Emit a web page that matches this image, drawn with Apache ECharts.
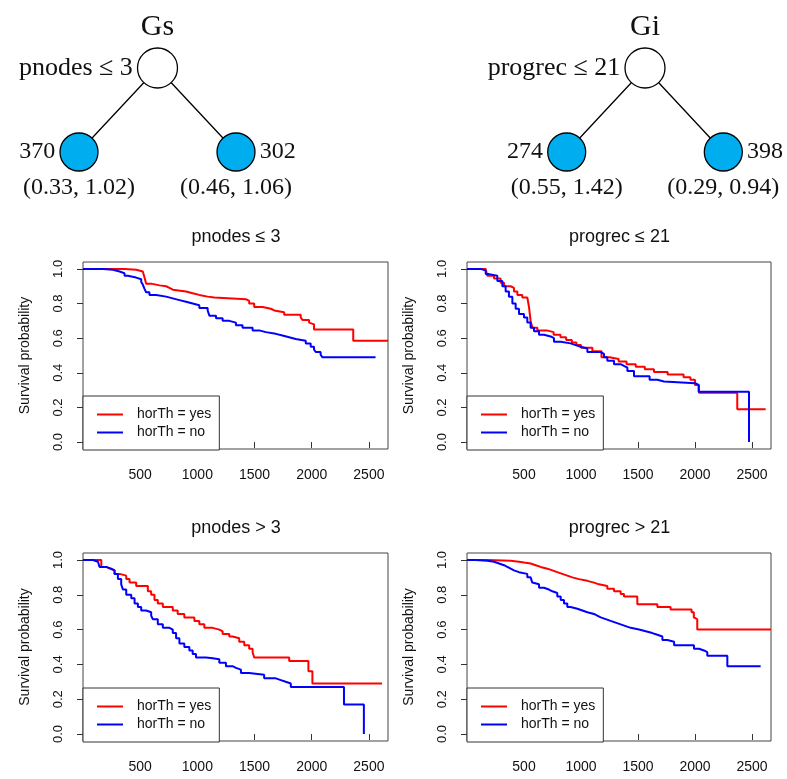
<!DOCTYPE html>
<html><head><meta charset="utf-8">
<script src="https://cdn.jsdelivr.net/npm/echarts@6/dist/echarts.min.js"></script>
<style>html,body{margin:0;padding:0;background:#fff}#c{width:787px;height:779px}</style>
</head><body><div id="c"></div>
<script>
// ---------- data ----------
const xTicks = [500, 1000, 1500, 2000, 2500];
const yTicks = [0, 0.2, 0.4, 0.6, 0.8, 1.0];
const seriesNames = ['horTh = yes', 'horTh = no'];
const panelTitles = ['pnodes ≤ 3', 'progrec ≤ 21', 'pnodes > 3', 'progrec > 21'];

// [time, survival probability]
const pnodesLeYes = [[0,1],[363,0.995],[465,0.985],[523,0.975],[538,0.95],[552,0.915],[596,0.905],[669,0.9],[727,0.89],[756,0.88],[785,0.87],[901,0.86],[959,0.85],[1017,0.84],[1090,0.835],[1148,0.825],[1424,0.815],[1453,0.8],[1497,0.78],[1570,0.77],[1642,0.76],[1672,0.75],[1759,0.735],[1904,0.72],[1919,0.705],[1977,0.69],[1991,0.68],[2020,0.65],[2363,0.585],[2667,0.585]];
const pnodesLeNo = [[0,1],[174,0.995],[262,0.985],[320,0.975],[363,0.96],[392,0.95],[465,0.94],[509,0.925],[523,0.91],[538,0.885],[552,0.865],[581,0.85],[640,0.84],[727,0.83],[785,0.82],[843,0.81],[901,0.8],[959,0.79],[1017,0.775],[1090,0.76],[1105,0.73],[1163,0.715],[1221,0.7],[1279,0.69],[1337,0.675],[1395,0.66],[1483,0.645],[1541,0.635],[1599,0.625],[1686,0.615],[1744,0.605],[1802,0.595],[1860,0.585],[1948,0.57],[1991,0.55],[2020,0.535],[2035,0.52],[2078,0.505],[2093,0.49],[2558,0.49]];
const progrecLeYes = [[0,1],[164,0.99],[178,0.96],[237,0.945],[295,0.92],[325,0.9],[383,0.89],[412,0.87],[442,0.85],[485,0.835],[529,0.83],[544,0.78],[558,0.7],[573,0.66],[617,0.645],[700,0.635],[760,0.62],[820,0.605],[870,0.59],[920,0.575],[960,0.56],[1000,0.545],[1100,0.525],[1180,0.49],[1250,0.48],[1330,0.465],[1400,0.45],[1480,0.435],[1560,0.42],[1640,0.405],[1760,0.39],[1900,0.375],[1960,0.36],[2000,0.33],[2035,0.285],[2371,0.19],[2620,0.19]];
const progrecLeNo = [[0,1],[120,0.99],[164,0.97],[193,0.96],[266,0.93],[310,0.9],[339,0.87],[368,0.84],[398,0.8],[427,0.77],[456,0.74],[500,0.72],[529,0.69],[558,0.66],[588,0.64],[632,0.62],[675,0.61],[734,0.6],[763,0.58],[822,0.57],[909,0.56],[953,0.55],[997,0.54],[1056,0.52],[1173,0.51],[1202,0.49],[1231,0.47],[1290,0.45],[1348,0.44],[1377,0.43],[1407,0.41],[1465,0.38],[1602,0.36],[1670,0.35],[1728,0.34],[2002,0.33],[2032,0.29],[2474,0.29],[2474,0]];
const pnodesGtYes = [[0,1],[160,0.96],[203,0.95],[233,0.94],[276,0.92],[320,0.91],[378,0.89],[407,0.87],[465,0.85],[567,0.82],[596,0.8],[625,0.77],[654,0.75],[698,0.73],[785,0.71],[828,0.69],[886,0.67],[974,0.65],[1017,0.63],[1061,0.61],[1134,0.6],[1192,0.59],[1221,0.575],[1279,0.56],[1308,0.55],[1366,0.53],[1410,0.51],[1453,0.49],[1483,0.47],[1497,0.44],[1803,0.42],[1971,0.36],[2006,0.29],[2615,0.29]];
const pnodesGtNo = [[0,1],[87,0.99],[131,0.98],[145,0.96],[203,0.95],[247,0.94],[276,0.92],[305,0.89],[334,0.86],[349,0.83],[378,0.8],[422,0.78],[451,0.75],[480,0.73],[509,0.71],[552,0.7],[596,0.68],[610,0.66],[654,0.63],[698,0.61],[756,0.6],[785,0.58],[814,0.55],[843,0.52],[886,0.5],[930,0.48],[959,0.46],[988,0.44],[1076,0.435],[1134,0.43],[1192,0.41],[1250,0.39],[1308,0.38],[1337,0.37],[1381,0.35],[1453,0.34],[1584,0.32],[1686,0.31],[1730,0.3],[1773,0.29],[1817,0.27],[2282,0.17],[2456,0.17],[2456,0]];
const progrecGtYes = [[0,1],[178,0.995],[383,0.99],[456,0.985],[500,0.98],[558,0.97],[602,0.96],[646,0.95],[705,0.94],[749,0.93],[792,0.92],[836,0.91],[880,0.9],[924,0.89],[982,0.88],[1056,0.87],[1114,0.86],[1158,0.85],[1231,0.835],[1290,0.82],[1348,0.805],[1377,0.79],[1494,0.745],[1670,0.73],[1786,0.715],[1970,0.7],[1990,0.67],[2005,0.66],[2020,0.6],[2667,0.6]];
const progrecGtNo = [[0,1],[73,0.995],[178,0.99],[237,0.98],[281,0.97],[325,0.96],[354,0.95],[383,0.94],[412,0.93],[456,0.92],[529,0.9],[558,0.89],[573,0.87],[588,0.86],[632,0.84],[675,0.83],[719,0.82],[749,0.81],[792,0.79],[822,0.77],[851,0.75],[880,0.73],[909,0.72],[968,0.71],[1012,0.7],[1056,0.69],[1114,0.68],[1143,0.67],[1173,0.66],[1217,0.65],[1260,0.64],[1304,0.63],[1348,0.62],[1392,0.61],[1436,0.6],[1509,0.59],[1568,0.58],[1626,0.57],[1670,0.56],[1714,0.54],[1758,0.53],[1817,0.51],[1991,0.49],[2035,0.48],[2079,0.47],[2108,0.45],[2284,0.39],[2576,0.39]];

// trees
const treeTitles = ['Gs', 'Gi'];
const treeSplits = ['pnodes ≤ 3', 'progrec ≤ 21'];
const treeCounts = [[370, 302], [274, 398]];
const treeStats = [['(0.33, 1.02)', '(0.46, 1.06)'], ['(0.55, 1.42)', '(0.29, 0.94)']];
const nodeOrder = [0, -1, 1];   // root, left leaf, right leaf
const nodeDepth = [0, 1, 1];

// ---------- layout ----------
const panelData = [[pnodesLeYes, pnodesLeNo], [progrecLeYes, progrecLeNo], [pnodesGtYes, pnodesGtNo], [progrecGtYes, progrecGtNo]];
const boxes = [[83,262,305,187],[467,262,304,187],[83,553,305,188],[467,553,304,188]];
const treeBoxes = [[79,68,157,84],[566.7,68,156.6,84]];
const colors = ['#ff0000', '#0000ff'];
const SANS = 'Liberation Sans, Arial, sans-serif';
const SERIF = 'Liberation Serif, Times New Roman, serif';

const grid = [], xAxis = [], yAxis = [], series = [], legend = [], graphic = [];

boxes.forEach((b, i) => {
  grid.push({left: b[0], top: b[1], width: b[2], height: b[3], show: true, borderColor: '#444', borderWidth: 1, containLabel: false});
  xAxis.push({type: 'value', gridIndex: i, min: 0, max: 2667,
    axisLine: {show: false}, splitLine: {show: false},
    axisTick: {show: true, length: 6, customValues: xTicks, lineStyle: {color: '#333'}},
    axisLabel: {customValues: xTicks, margin: 19, fontSize: 14, color: '#111', fontFamily: SANS,
      formatter: v => String(v)}});
  yAxis.push({type: 'value', gridIndex: i, min: -0.04, max: 1.04,
    axisLine: {show: false}, splitLine: {show: false},
    axisTick: {show: true, length: 6, customValues: yTicks, lineStyle: {color: '#333'}},
    axisLabel: {customValues: yTicks, rotate: 90, margin: 18, fontSize: 13, color: '#111', fontFamily: SANS,
      formatter: v => v.toFixed(1)},
    name: 'Survival probability', nameLocation: 'middle', nameRotate: 90, nameGap: 51,
    nameTextStyle: {fontSize: 14, color: '#111', fontFamily: SANS}});
  panelData[i].forEach((d, k) => {
    series.push({type: 'line', name: seriesNames[k], xAxisIndex: i, yAxisIndex: i, data: d,
      step: 'end', symbol: 'none', showSymbol: false, animation: false,
      lineStyle: {width: 2, color: colors[k]}, itemStyle: {color: colors[k]}, z: 3});
  });
  legend.push({orient: 'vertical', left: b[0], top: b[1] + b[3] - 53, data: seriesNames,
    icon: 'rect', itemWidth: 26, itemHeight: 2, itemGap: 3, padding: [11, 8, 10, 14],
    borderColor: '#333', borderWidth: 1, backgroundColor: '#fff', selectedMode: false,
    textStyle: {fontSize: 14, lineHeight: 15, color: '#111', fontFamily: SANS, padding: [0, 0, 0, 9]}, z: 5});
  graphic.push({type: 'text', x: b[0] + b[2] * 0.5 + 0.5, y: b[1] - 25, silent: true,
    style: {text: panelTitles[i], font: '18px ' + SANS, fill: '#111', textAlign: 'center', textVerticalAlign: 'middle'}});
});

treeBoxes.forEach((b, t) => {
  const gi = grid.length;
  grid.push({left: b[0], top: b[1], width: b[2], height: b[3], show: false});
  xAxis.push({type: 'value', gridIndex: gi, min: -1, max: 1, show: false});
  yAxis.push({type: 'value', gridIndex: gi, min: 0, max: 1, inverse: true, show: false});
  const pt = n => [nodeOrder[n], nodeDepth[n]];
  series.push({type: 'line', xAxisIndex: gi, yAxisIndex: gi, data: [pt(1), pt(0), pt(2)],
    symbol: 'none', animation: false, silent: true, lineStyle: {color: '#000', width: 1.3}, z: 2});
  const labelBase = {fontFamily: SERIF, fontSize: 24, color: '#111', distance: 4};
  series.push({type: 'scatter', xAxisIndex: gi, yAxisIndex: gi, animation: false, silent: true, z: 4,
    itemStyle: {borderColor: '#000', borderWidth: 1.3, opacity: 1},
    data: [
      {value: pt(0), symbolSize: 40, itemStyle: {color: '#fff', opacity: 1},
        label: Object.assign({show: true, position: 'left', formatter: treeSplits[t]}, labelBase, {fontSize: 26})},
      {value: pt(1), symbolSize: 38, itemStyle: {color: '#00AEEF', opacity: 1},
        label: Object.assign({show: true, position: 'left', formatter: String(treeCounts[t][0])}, labelBase)},
      {value: pt(2), symbolSize: 38, itemStyle: {color: '#00AEEF', opacity: 1},
        label: Object.assign({show: true, position: 'right', formatter: String(treeCounts[t][1])}, labelBase)}
    ]});
  series.push({type: 'scatter', xAxisIndex: gi, yAxisIndex: gi, animation: false, silent: true, z: 1,
    symbolSize: 38, itemStyle: {color: 'rgba(0,0,0,0)', opacity: 1},
    data: [1, 2].map((n, k) => ({value: pt(n),
      label: Object.assign({show: true, position: 'bottom', formatter: treeStats[t][k]}, labelBase, {distance: 5})}))});
  graphic.push({type: 'text', x: b[0] + b[2] / 2, y: 27, silent: true,
    style: {text: treeTitles[t], font: '30px ' + SERIF, fill: '#111', textAlign: 'center', textVerticalAlign: 'middle'}});
});

const chart = echarts.init(document.getElementById('c'), null, {renderer: 'canvas'});
chart.setOption({backgroundColor: '#fff', animation: false, grid, xAxis, yAxis, series, legend, graphic});
</script>
</body></html>
